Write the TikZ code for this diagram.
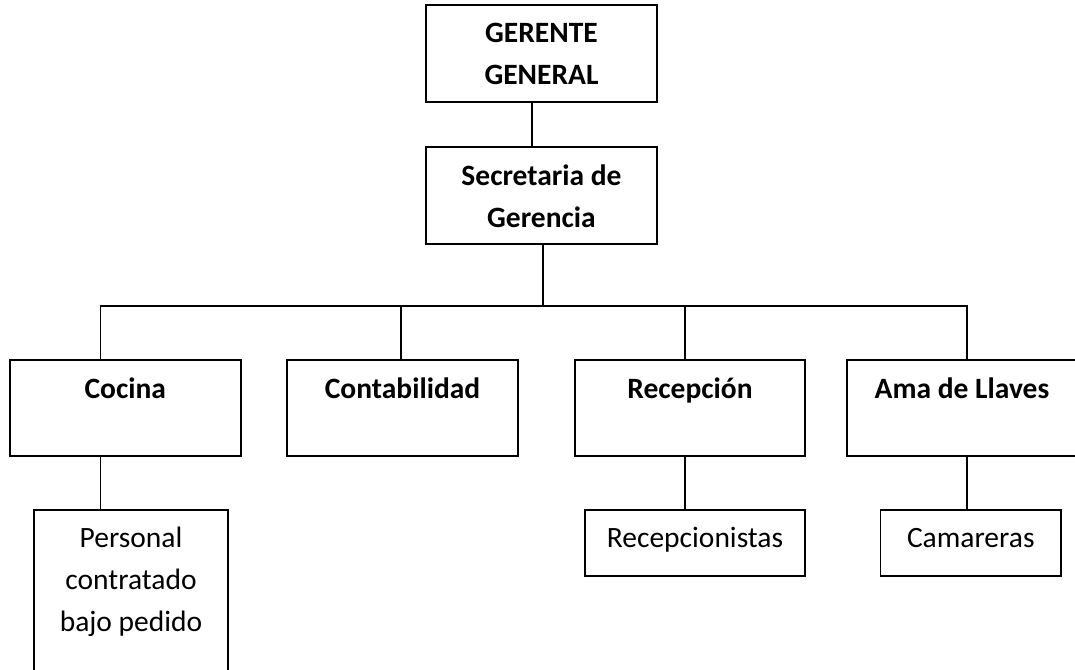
\documentclass[tikz,border=0pt]{standalone}
\usepackage{fontspec}
\setmainfont{Carlito}
\begin{document}
\begin{tikzpicture}[x=1pt,y=1pt,
  box/.style={draw=black, line width=1.7pt, rectangle, inner sep=0pt},
  lbl/.style={inner sep=0pt, align=center, anchor=north, font=\fontsize{29.5}{42}\selectfont},
  conn/.style={draw=black, line width=1.7pt}]
\clip (0,0) rectangle (1075,669);
\fill[white] (0,0) rectangle (1075,669);
% boxes
\node[box, minimum width=231pt, minimum height=97pt] (ger) at (541.5,615.5) {};
\node[box, minimum width=231pt, minimum height=97pt] (sec) at (541.5,473.5) {};
\node[box, minimum width=231pt, minimum height=96pt] (coc) at (125.3,261) {};
\node[box, minimum width=231pt, minimum height=96pt] (con) at (402.5,261) {};
\node[box, minimum width=230pt, minimum height=96pt] (rec) at (690,261) {};
\node[box, minimum width=230pt, minimum height=96pt] (ama) at (962,261) {};
\node[box, minimum width=194pt, minimum height=170pt] (per) at (131,74) {};
\node[box, minimum width=220pt, minimum height=66pt] (rcp) at (695,126) {};
\node[box, minimum width=180.5pt, minimum height=66pt] (cam) at (970.75,126) {};
% labels
\node[lbl] (gerT) at ([yshift=-18pt]ger.north) {\rule{0pt}{20pt}\textbf{GERENTE}\\\textbf{GENERAL}};
\node[lbl] (secT) at ([yshift=-18pt]sec.north) {\rule{0pt}{20pt}\textbf{Secretaria de}\\\textbf{Gerencia}};
\node[lbl] (cocT) at ([yshift=-18pt]coc.north) {\rule{0pt}{20pt}\textbf{Cocina}};
\node[lbl] (conT) at ([yshift=-18pt]con.north) {\rule{0pt}{20pt}\textbf{Contabilidad}};
\node[lbl] (recT) at ([yshift=-18pt]rec.north) {\rule{0pt}{20pt}\textbf{Recepción}};
\node[lbl] (amaT) at ([yshift=-18pt]ama.north) {\rule{0pt}{20pt}\textbf{Ama de Llaves}};
\node[lbl] (perT) at ([yshift=-18pt]per.north) {\rule{0pt}{20pt}Personal\\contratado\\bajo pedido};
\node[lbl] (rcpT) at ([yshift=-18pt]rcp.north) {\rule{0pt}{20pt}Recepcionistas};
\node[lbl] (camT) at ([yshift=-18pt]cam.north) {\rule{0pt}{20pt}Camareras};
% connectors
\coordinate (bus) at (542.7,363);
\draw[conn] ([xshift=-9.5pt]ger.south) -- ([xshift=-9.5pt]sec.north);
\draw[conn] ([xshift=1.2pt]sec.south) -- (bus);
\draw[conn] ([xshift=-24.8pt]coc.north) -- ([xshift=-24.8pt]coc.north |- bus) -- ([xshift=5pt]ama.north |- bus) -- ([xshift=5pt]ama.north);
\draw[conn] ([xshift=-1.5pt]con.north) -- ([xshift=-1.5pt]con.north |- bus);
\draw[conn] ([xshift=-5pt]rec.north) -- ([xshift=-5pt]rec.north |- bus);
\draw[conn] ([xshift=-24.8pt]coc.south) -- ([xshift=-24.8pt]coc.south |- per.north);
\draw[conn] ([xshift=-5pt]rec.south) -- ([xshift=-5pt]rec.south |- rcp.north);
\draw[conn] ([xshift=5pt]ama.south) -- ([xshift=5pt]ama.south |- cam.north);
\end{tikzpicture}
\end{document}
